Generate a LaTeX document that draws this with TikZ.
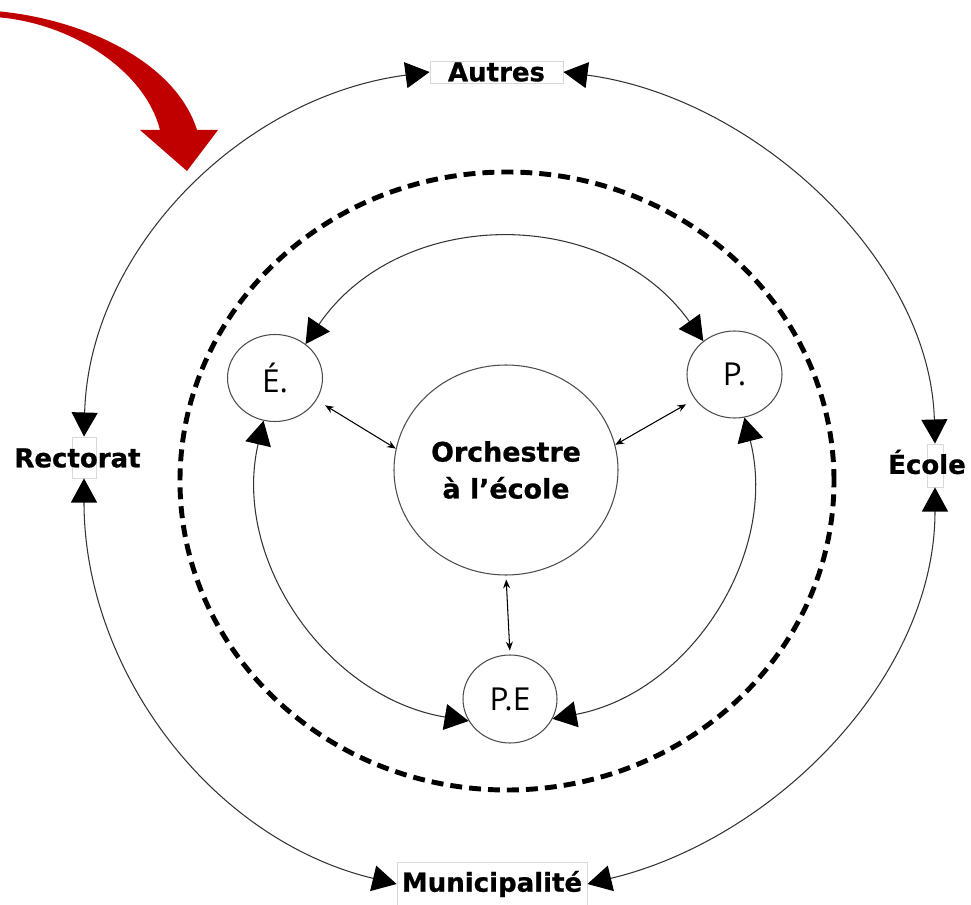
\documentclass[tikz,border=0pt]{standalone}
\usepackage{fontspec}
\usetikzlibrary{arrows.meta,shapes.geometric}
\newfontfamily\lblfont{DejaVu Sans Bold}[FakeBold=0.8]
\newfontfamily\circfont{Open Sans}
\newdimen\pxu \pxu=0.02cm
\definecolor{arrowred}{RGB}{192,0,0}
\begin{document}
\begin{tikzpicture}[x=0.02cm,y=0.02cm,
  lbl/.style={font=\lblfont\fontsize{14.8pt}{18pt}\selectfont, inner sep=0pt},
  frame/.style={draw=black!15, line width=0.5pt, inner sep=0pt},
  circ/.style={ellipse, draw=black!70, line width=0.6pt, inner sep=0pt, font=\circfont\fontsize{18pt}{21pt}\selectfont},
  big/.style={draw=black!80, line width=0.6pt, >={Triangle[length=13.7pt,width=14.8pt,color=black]}, <->},
  small/.style={draw=black, line width=0.6pt, >={Stealth[length=5pt,width=4pt]}, <->}
]
\useasboundingbox (0,0) rectangle (971,-905);

% red arrow
\fill[arrowred] (-5,-11) .. controls (80,-18) and (175,-60) .. (197,-130) -- (218,-130) -- (187,-171) -- (140,-130) -- (160,-130) .. controls (145,-70) and (70,-22) .. (-5,-17) -- cycle;

% dashed ring
\draw[line width=2.8pt, dash pattern=on 6.8pt off 4pt] (507,-481) ellipse [x radius=327, y radius=309];

% inner nodes
\node[circ, minimum width=224\pxu, minimum height=210\pxu, align=center,
      font=\lblfont\fontsize{15.3pt}{21pt}\selectfont] (orch) at (506,-470) {Orchestre\\à l’école};
\node[circ, minimum width=95\pxu, minimum height=87\pxu] (e) at (275,-378) {É.};
\node[circ, minimum width=95\pxu, minimum height=87\pxu] (p) at (734.5,-374.5) {P.};
\node[circ, minimum width=94\pxu, minimum height=88\pxu] (pe) at (510,-699) {P.E};

% outer labels
\node[lbl, frame, minimum width=133\pxu, minimum height=22\pxu] (autres) at (496.5,-72) {Autres};
\node[frame, minimum width=24\pxu, minimum height=41\pxu] (rbox) at (84,-457.5) {};
\node[lbl] (rtext) at (77.5,-458) {Rectorat};
\node[frame, minimum width=16\pxu, minimum height=43\pxu] (ebox) at (935,-465.5) {};
\node[lbl] (etext) at (927,-462) {École};
\node[lbl, frame, minimum width=190\pxu, minimum height=44\pxu] (mun) at (492,-884) {Municipalité};

% outer arcs
\draw[big] (autres.west) .. controls +(-190,-25) and +(5,185) .. (rbox.north);
\draw[big] (autres.east) .. controls +(190,-25) and +(-5,185) .. (ebox.north);
\draw[big] (rbox.south) .. controls +(0,-190) and +(-187,45) .. (mun.west);
\draw[big] (ebox.south) .. controls +(0,-190) and +(187,45) .. (mun.east);

% inner arcs
\draw[big] (e.48) .. controls +(94.5,138.4) and +(-97.3,136.4) .. (p.133);
\draw[big] (e.255) .. controls +(-32.4,-139.3) and +(-141.1,23.4) .. (pe.208);
\draw[big] (p.283) .. controls +(34.5,-136.2) and +(138,26.1) .. (pe.-25);

% small arrows
\draw[small, shorten <=10\pxu] (e.-28) -- (orch.169);
\draw[small, shorten <=10\pxu] (p.212) -- (orch.13);
\draw[small, shorten <=4\pxu, shorten >=4\pxu] (orch.south) -- (pe.north);
\end{tikzpicture}
\end{document}
